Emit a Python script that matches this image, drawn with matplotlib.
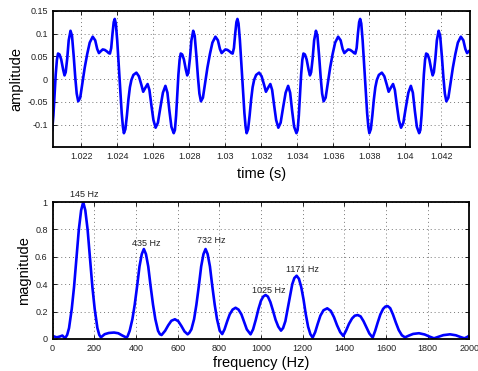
import matplotlib
matplotlib.use("Agg")
import matplotlib.pyplot as plt
import numpy as np
from matplotlib.ticker import FuncFormatter

plt.rcParams['font.family'] = ['Liberation Sans', 'DejaVu Sans']
plt.rcParams['axes.unicode_minus'] = False

# ---- waveform (time in ms, amplitude) ----
time_ms = [
    1020.389, 1020.456, 1020.517, 1020.584, 1020.650, 1020.712, 1020.795, 1020.889, 1021.000, 1021.073,
    1021.139, 1021.223, 1021.306, 1021.406, 1021.489, 1021.584, 1021.667, 1021.750, 1021.834, 1021.945,
    1022.056, 1022.195, 1022.334, 1022.473, 1022.639, 1022.778, 1022.889, 1022.984, 1023.084, 1023.195,
    1023.306, 1023.417, 1023.528, 1023.595, 1023.667, 1023.739, 1023.806, 1023.862, 1023.923, 1024.000,
    1024.084, 1024.167, 1024.250, 1024.317,
    1024.372, 1024.455, 1024.539, 1024.622, 1024.705, 1024.789, 1024.900, 1025.066, 1025.205, 1025.344,
    1025.444, 1025.566, 1025.689, 1025.789, 1025.900, 1026.011, 1026.133, 1026.261, 1026.400, 1026.539,
    1026.678, 1026.789, 1026.900, 1027.011, 1027.139, 1027.205, 1027.272, 1027.333, 1027.400, 1027.466,
    1027.528, 1027.611, 1027.705, 1027.816, 1027.889, 1027.955, 1028.039, 1028.122, 1028.222, 1028.305,
    1028.400, 1028.483, 1028.566, 1028.650, 1028.761, 1028.872, 1029.011, 1029.150, 1029.289, 1029.455,
    1029.594, 1029.705, 1029.800, 1029.900, 1030.011, 1030.122, 1030.233, 1030.344, 1030.411, 1030.483,
    1030.555, 1030.622, 1030.678, 1030.739, 1030.816, 1030.900, 1030.983, 1031.066, 1031.133,
    1031.189, 1031.272, 1031.356, 1031.439, 1031.522, 1031.606, 1031.717, 1031.883, 1032.022, 1032.161,
    1032.261, 1032.383, 1032.506, 1032.606, 1032.717, 1032.828, 1032.950, 1033.078, 1033.217, 1033.356,
    1033.495, 1033.606, 1033.717, 1033.828, 1033.956, 1034.022, 1034.089, 1034.150, 1034.217, 1034.283,
    1034.345, 1034.428, 1034.522, 1034.633, 1034.706, 1034.772, 1034.856, 1034.939, 1035.039, 1035.122,
    1035.217, 1035.300, 1035.383, 1035.467, 1035.578, 1035.689, 1035.828, 1035.967, 1036.106, 1036.272,
    1036.411, 1036.522, 1036.617, 1036.717, 1036.828, 1036.939, 1037.050, 1037.161, 1037.228, 1037.300,
    1037.372, 1037.439, 1037.495, 1037.556, 1037.633, 1037.717, 1037.800, 1037.883, 1037.950,
    1038.006, 1038.089, 1038.173, 1038.256, 1038.339, 1038.423, 1038.534, 1038.700, 1038.839, 1038.978,
    1039.078, 1039.200, 1039.323, 1039.423, 1039.534, 1039.645, 1039.767, 1039.895, 1040.034, 1040.173,
    1040.312, 1040.423, 1040.534, 1040.645, 1040.773, 1040.839, 1040.906, 1040.967, 1041.034, 1041.100,
    1041.162, 1041.245, 1041.339, 1041.450, 1041.523, 1041.589, 1041.673, 1041.756, 1041.856, 1041.939,
    1042.034, 1042.117, 1042.200, 1042.284, 1042.395, 1042.506, 1042.645, 1042.784, 1042.923, 1043.089,
    1043.228, 1043.339, 1043.434, 1043.534, 1043.645,
]
amplitude = [
    -0.112, -0.08, -0.035, 0.01, 0.042, 0.056, 0.054, 0.043, 0.02, 0.008,
    0.015, 0.045, 0.085, 0.106, 0.095, 0.05, 0.005, -0.032, -0.049, -0.041,
    -0.012, 0.025, 0.055, 0.08, 0.093, 0.085, 0.066, 0.057, 0.061, 0.065,
    0.064, 0.061, 0.057, 0.056, 0.068, 0.1, 0.125, 0.132, 0.122, 0.085,
    0.03, -0.025, -0.075, -0.105,
    -0.119, -0.11, -0.08, -0.045, -0.018, -0.002, 0.009, 0.014, 0.006, -0.013,
    -0.028, -0.019, -0.011, -0.024, -0.058, -0.09, -0.107, -0.096, -0.062, -0.03,
    -0.015, -0.03, -0.07, -0.105, -0.119, -0.112, -0.08, -0.035, 0.01, 0.042,
    0.056, 0.054, 0.043, 0.02, 0.008, 0.015, 0.045, 0.085, 0.106, 0.095,
    0.05, 0.005, -0.032, -0.049, -0.041, -0.012, 0.025, 0.055, 0.08, 0.093,
    0.085, 0.066, 0.057, 0.061, 0.065, 0.064, 0.061, 0.057, 0.056, 0.068,
    0.1, 0.125, 0.132, 0.122, 0.085, 0.03, -0.025, -0.075, -0.105,
    -0.119, -0.11, -0.08, -0.045, -0.018, -0.002, 0.009, 0.014, 0.006, -0.013,
    -0.028, -0.019, -0.011, -0.024, -0.058, -0.09, -0.107, -0.096, -0.062, -0.03,
    -0.015, -0.03, -0.07, -0.105, -0.119, -0.112, -0.08, -0.035, 0.01, 0.042,
    0.056, 0.054, 0.043, 0.02, 0.008, 0.015, 0.045, 0.085, 0.106, 0.095,
    0.05, 0.005, -0.032, -0.049, -0.041, -0.012, 0.025, 0.055, 0.08, 0.093,
    0.085, 0.066, 0.057, 0.061, 0.065, 0.064, 0.061, 0.057, 0.056, 0.068,
    0.1, 0.125, 0.132, 0.122, 0.085, 0.03, -0.025, -0.075, -0.105,
    -0.119, -0.11, -0.08, -0.045, -0.018, -0.002, 0.009, 0.014, 0.006, -0.013,
    -0.028, -0.019, -0.011, -0.024, -0.058, -0.09, -0.107, -0.096, -0.062, -0.03,
    -0.015, -0.03, -0.07, -0.105, -0.119, -0.112, -0.08, -0.035, 0.01, 0.042,
    0.056, 0.054, 0.043, 0.02, 0.008, 0.015, 0.045, 0.085, 0.106, 0.095,
    0.05, 0.005, -0.032, -0.049, -0.041, -0.012, 0.025, 0.055, 0.08, 0.093,
    0.085, 0.066, 0.057, 0.061, 0.065,
]

# ---- spectrum ----
freq_hz = [
    0, 20, 35, 47, 60, 70, 79, 92, 103, 115, 126, 137, 147, 157, 168, 179, 191, 202, 215, 224, 232,
    250, 270, 295, 315, 335, 355,
    360, 370, 383, 394, 406, 417, 428, 438, 448, 459, 470, 482, 493, 506, 515, 523,
    540, 555, 570, 587, 603, 618, 633, 648,
    656, 666, 679, 690, 702, 713, 724, 734, 744, 755, 766, 778, 789, 802, 814,
    825, 838, 850, 864, 878, 892, 906, 918, 932, 950,
    962, 975, 988, 1000, 1011, 1022, 1033, 1045, 1057, 1070, 1083, 1096,
    1106, 1117, 1128, 1140, 1150, 1160, 1171, 1182, 1193, 1204, 1215, 1226, 1237, 1248,
    1260, 1272, 1285, 1300, 1318, 1335, 1350, 1365, 1380, 1395,
    1408, 1422, 1437, 1450, 1464, 1478, 1492, 1506, 1520, 1536,
    1548, 1560, 1573, 1586, 1597, 1608, 1620, 1633, 1647, 1661, 1676, 1691,
    1710, 1730, 1758, 1785, 1808, 1830,
    1850, 1875, 1907, 1935, 1958, 1976, 1990, 2000,
]
magnitude = [
    0.022, 0.012, 0.018, 0.025, 0.005, 0.03, 0.08, 0.22, 0.38, 0.6, 0.8, 0.94, 1.0, 0.94, 0.8, 0.6, 0.38, 0.22, 0.08, 0.03, 0.012,
    0.035, 0.044, 0.047, 0.042, 0.025, 0.01,
    0.02, 0.06, 0.145, 0.25, 0.39, 0.53, 0.62, 0.657, 0.62, 0.53, 0.39, 0.25, 0.145, 0.06, 0.035, 0.029,
    0.06, 0.1, 0.133, 0.144, 0.13, 0.095, 0.055, 0.034,
    0.045, 0.07, 0.145, 0.25, 0.39, 0.53, 0.62, 0.657, 0.62, 0.53, 0.39, 0.25, 0.145, 0.06, 0.036,
    0.07, 0.13, 0.18, 0.215, 0.228, 0.215, 0.18, 0.13, 0.07, 0.034,
    0.07, 0.14, 0.22, 0.28, 0.31, 0.321, 0.31, 0.27, 0.21, 0.14, 0.09, 0.061,
    0.08, 0.13, 0.22, 0.32, 0.4, 0.445, 0.462, 0.44, 0.38, 0.29, 0.18, 0.09, 0.035, 0.01,
    0.05, 0.11, 0.17, 0.21, 0.224, 0.205, 0.16, 0.1, 0.05, 0.022,
    0.06, 0.11, 0.15, 0.17, 0.175, 0.165, 0.13, 0.085, 0.04, 0.01,
    0.06, 0.12, 0.18, 0.22, 0.237, 0.24, 0.225, 0.18, 0.12, 0.065, 0.027, 0.012,
    0.025, 0.037, 0.042, 0.033, 0.018, 0.005,
    0.015, 0.028, 0.034, 0.027, 0.014, 0.005, 0.015, 0.025,
]

peak_labels = ["145 Hz", "435 Hz", "732 Hz", "1025 Hz", "1171 Hz"]
label_freq = [152, 451, 761, 1035, 1197]
label_mag = [1.055, 0.70, 0.72, 0.357, 0.51]

fig = plt.figure(figsize=(4.78, 3.71), dpi=100)
ax1 = fig.add_axes([0.110, 0.603, 0.873, 0.368])
ax2 = fig.add_axes([0.110, 0.0863, 0.872, 0.369])

blue = (0, 0, 1)
t_s = np.array(time_ms) / 1000.0
ax1.plot(t_s, amplitude, color=blue, lw=1.9, solid_joinstyle='round')
ax1.set_xlim(1.02041, 1.04359)
ax1.set_ylim(-0.15, 0.15)
ax1.set_xticks(np.arange(1.022, 1.0425, 0.002))
ax1.xaxis.set_major_formatter(FuncFormatter(lambda v, p: f"{v:.3f}".rstrip('0')))
ax1.set_yticks([-0.1, -0.05, 0, 0.05, 0.1, 0.15])
ax1.set_yticklabels(['-0.1', '-0.05', '0', '0.05', '0.1', '0.15'])
ax1.set_xlabel("time (s)", fontsize=10.5, labelpad=4)
ax1.set_ylabel("amplitude", fontsize=10.5, labelpad=3)

ax2.plot(freq_hz, magnitude, color=blue, lw=1.9, solid_joinstyle='round')
ax2.set_xlim(0, 2000)
ax2.set_ylim(0, 1)
ax2.set_xticks(np.arange(0, 2001, 200))
ax2.set_yticks([0, 0.2, 0.4, 0.6, 0.8, 1])
ax2.set_yticklabels(['0', '0.2', '0.4', '0.6', '0.8', '1'])
ax2.set_xlabel("frequency (Hz)", fontsize=10.5, labelpad=2)
ax2.set_ylabel("magnitude", fontsize=10.5, labelpad=3)
for lab, fx, my in zip(peak_labels, label_freq, label_mag):
    ax2.text(fx, my, lab, fontsize=6.5, color='#222222', ha='center', va='center', clip_on=False)

for ax in (ax1, ax2):
    ax.grid(True, linestyle=(0, (1, 3)), color='#777777', linewidth=0.7)
    ax.tick_params(direction='in', length=3, width=0.6, labelsize=6.5, labelcolor='#222222',
                   top=True, right=True, pad=3.5)
    for s in ax.spines.values():
        s.set_linewidth(1.3)
    ax.set_axisbelow(True)

fig.savefig("out.png", dpi=100)
